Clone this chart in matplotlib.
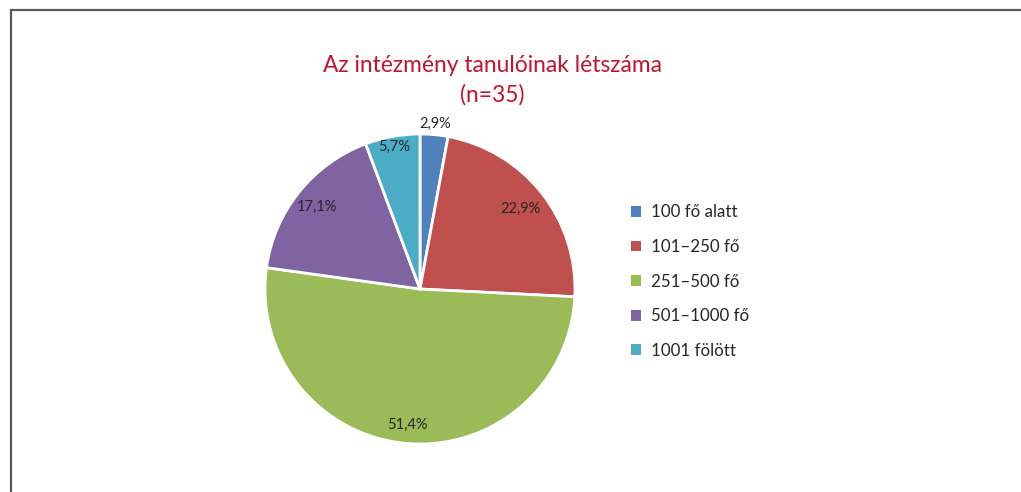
import numpy as np
import matplotlib.pyplot as plt
from matplotlib.lines import Line2D
from matplotlib.patches import Patch

plt.rcParams['font.family'] = ['Lato', 'DejaVu Sans']

# data
categories = ['100 fő alatt', '101–250 fő', '251–500 fő', '501–1000 fő', '1001 fölött']
shares = [2.9, 22.9, 51.4, 17.1, 5.7]
pct_labels = ['2,9%', '22,9%', '51,4%', '17,1%', '5,7%']
colors = ['#4F81BD', '#C0504D', '#9BBB59', '#8064A2', '#4BACC6']
label_dist = [1.07, 0.83, 0.88, 0.85, 0.93]

W, H = 1021, 492
fig = plt.figure(figsize=(W / 100, H / 100), dpi=100)

# pie axes: centre (420, 289) px, radius 155 px
cx, cy, r = 420, 289, 155
ax = fig.add_axes([(cx - r) / W, (H - cy - r) / H, 2 * r / W, 2 * r / H])
wedges, _ = ax.pie(shares, colors=colors, startangle=90, counterclock=False,
                   wedgeprops=dict(edgecolor='white', linewidth=2))
ax.set_xlim(-1, 1)
ax.set_ylim(-1, 1)
ax.set_aspect('auto')
ax.axis('off')

for w, txt, d in zip(wedges, pct_labels, label_dist):
	mid = np.deg2rad((w.theta1 + w.theta2) / 2)
	ax.text(d * np.cos(mid), d * np.sin(mid), txt, ha='center', va='center',
	        fontsize=10.5, color='#262626', clip_on=False)

fig.text(492 / W, 1 - 65 / H, 'Az intézmény tanulóinak létszáma', ha='center', va='center',
         fontsize=16.4, color='#C4122F')
fig.text(492 / W, 1 - 95 / H, '(n=35)', ha='center', va='center',
         fontsize=16.4, color='#C4122F')

handles = [Patch(facecolor=c, edgecolor='none') for c in colors]
fig.legend(handles, categories, loc='upper left', bbox_to_anchor=(616 / W, 1 - 189 / H),
           frameon=False, fontsize=12.2, handlelength=0.6, handleheight=0.6,
           handletextpad=0.55, labelspacing=1.1, labelcolor='#262626')

# outer frame
fig.add_artist(Line2D([10.5 / W, 1], [1 - 9.5 / H, 1 - 9.5 / H], color='#5a5a5a', lw=1.6))
fig.add_artist(Line2D([10.5 / W, 10.5 / W], [0, 1 - 9.5 / H], color='#5a5a5a', lw=1.6))

fig.savefig('out.png', dpi=100)
